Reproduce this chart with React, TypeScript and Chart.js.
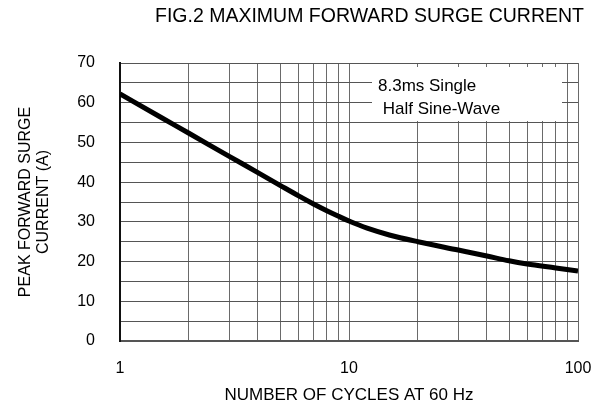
import React, { useEffect, useRef } from "react";
import { Chart, registerables } from "chart.js";

Chart.register(...registerables);

const chartTitle = "FIG.2 MAXIMUM FORWARD SURGE CURRENT";
const xAxisTitle = "NUMBER OF CYCLES AT 60 Hz";
const yAxisTitle = ["PEAK FORWARD SURGE", "CURRENT (A)"];
const noteLines = ["8.3ms Single", " Half Sine-Wave"];

const cycles = [1, 1.5, 2, 3, 4, 5, 6, 7, 8, 9, 10, 12, 15, 20, 30, 40, 50, 60, 80, 100];
const surgeCurrent = [62.2, 56.4, 52.3, 46.5, 42.4, 39.2, 36.6, 34.5, 32.8, 31.4, 30.2, 28.4, 26.7, 25.0, 22.9, 21.4, 20.2, 19.4, 18.4, 17.6];

const xTickValues = [1, 2, 3, 4, 5, 6, 7, 8, 9, 10, 20, 30, 40, 50, 60, 70, 80, 90, 100];
const xLabelValues = [1, 10, 100];
const yMin = 0;
const yMax = 70;
const yGridStep = 5;
const yLabelStep = 10;

const FONT = '"Liberation Sans", Arial, Helvetica, sans-serif';

const decorPlugin = {
  id: "decor",
  beforeDatasetsDraw(chart: any) {
    const { ctx, chartArea } = chart;
    const x0 = chartArea.left + 252;
    const y0 = chartArea.top + 4;
    ctx.save();
    ctx.fillStyle = "#ffffff";
    ctx.fillRect(x0, y0, 190, 54);
    ctx.fillStyle = "#000000";
    ctx.font = `17px ${FONT}`;
    ctx.textAlign = "left";
    ctx.textBaseline = "middle";
    ctx.fillText(noteLines[0], x0 + 6, y0 + 19);
    ctx.fillText(noteLines[1], x0 + 6, y0 + 42);
    ctx.restore();
  },
  afterDraw(chart: any) {
    const { ctx } = chart;
    ctx.save();
    ctx.fillStyle = "#000000";
    ctx.font = `19.5px ${FONT}`;
    ctx.textAlign = "right";
    ctx.textBaseline = "middle";
    ctx.fillText(chartTitle, 584, 17);
    ctx.restore();
  },
};

export default function App() {
  const ref = useRef<HTMLCanvasElement | null>(null);

  useEffect(() => {
    if (!ref.current) return;
    const chart = new Chart(ref.current, {
      type: "line",
      data: {
        datasets: [
          {
            data: cycles.map((c, i) => ({ x: c, y: surgeCurrent[i] })),
            borderColor: "#000000",
            borderWidth: 5,
            pointRadius: 0,
            cubicInterpolationMode: "monotone",
            fill: false,
          },
        ],
      },
      options: {
        animation: false,
        responsive: false,
        layout: { padding: { top: 63, right: 23, bottom: 0, left: 0 } },
        plugins: {
          legend: { display: false },
          title: { display: false },
          tooltip: { enabled: false },
        },
        scales: {
          x: {
            type: "logarithmic",
            min: 1,
            max: 100,
            afterBuildTicks: (s: any) => {
              s.ticks = xTickValues.map((v) => ({ value: v }));
            },
            afterFit: (s: any) => {
              s.height = 68;
              s.paddingLeft = 0;
              s.paddingRight = 0;
            },
            ticks: {
              autoSkip: false,
              maxRotation: 0,
              padding: 18,
              color: "#000",
              font: { size: 16, family: FONT },
              callback: (v: any) => (xLabelValues.includes(Number(v)) ? String(v) : ""),
            },
            grid: { color: "#6a6a6a", lineWidth: 1, drawTicks: false },
            border: { color: "#555", width: 2 },
            title: {
              display: true,
              text: xAxisTitle,
              color: "#000",
              font: { size: 17, family: FONT },
              padding: { top: 0, bottom: 3 },
            },
          },
          y: {
            type: "linear",
            min: yMin,
            max: yMax,
            afterFit: (s: any) => {
              s.width = 120;
              s.paddingTop = 0;
              s.paddingBottom = 0;
            },
            ticks: {
              stepSize: yGridStep,
              autoSkip: false,
              padding: 25,
              color: "#000",
              font: { size: 16, family: FONT },
              callback: (v: any) => (Number(v) % yLabelStep === 0 ? String(v) : ""),
            },
            grid: { color: "#555", lineWidth: 1, drawTicks: false },
            border: { color: "#111", width: 2 },
            title: {
              display: true,
              text: yAxisTitle,
              color: "#000",
              font: { size: 16, family: FONT, lineHeight: 1.1 },
              padding: { top: 17, bottom: 0 },
            },
          },
        },
      },
      plugins: [decorPlugin],
    } as any);
    return () => chart.destroy();
  }, []);

  return (
    <div style={{ position: "fixed", left: 0, top: 0, width: 601, height: 409, background: "#fff" }}>
      <canvas ref={ref} width={601} height={409} style={{ display: "block" }} />
    </div>
  );
}
